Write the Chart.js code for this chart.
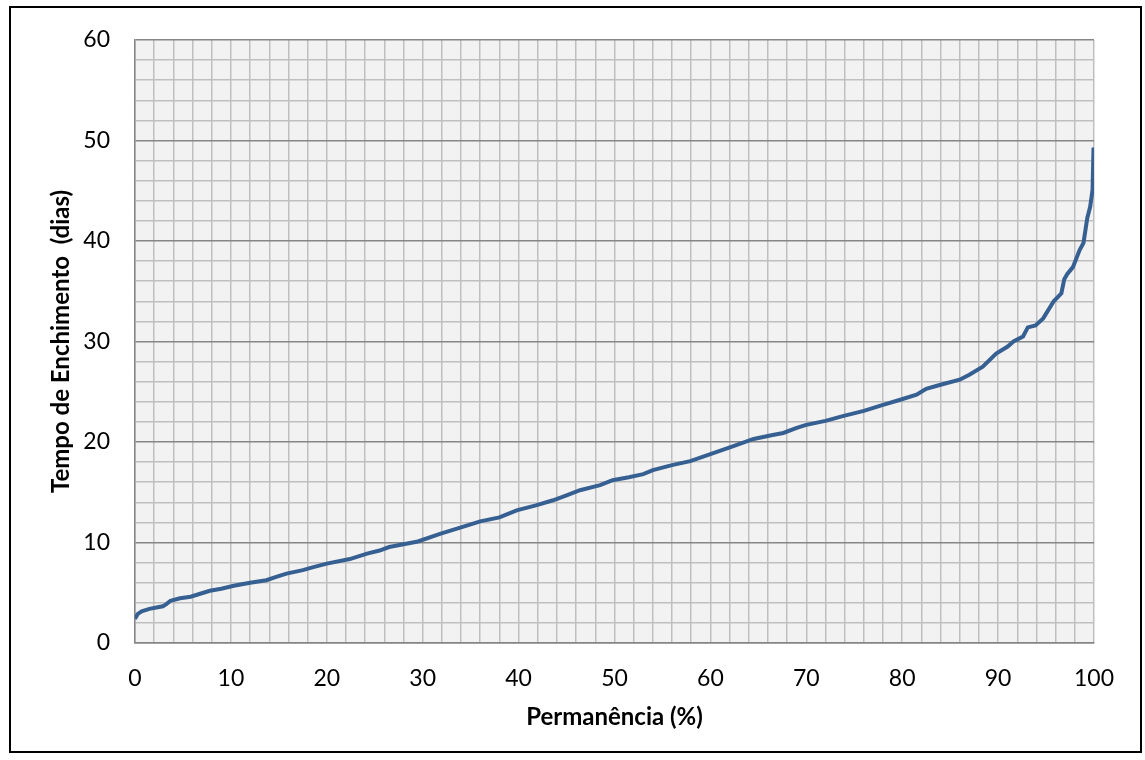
<!DOCTYPE html>
<html lang="pt">
<head>
  <meta charset="UTF-8">
  <title>Tempo de Enchimento x Permanência</title>
  <script src="https://cdn.jsdelivr.net/npm/chart.js"></script>
  <style>
    body { margin: 0; background: #fff; }
    canvas { display: block; }
  </style>
</head>
<body>
  <canvas id="curvaPermanencia" width="1145" height="760"></canvas>

  <script>
    // permanência (%) e tempo de enchimento (dias)
    const permanencia = [0, 0.3, 0.7, 1.5, 2.9, 3.3, 3.7, 4.7, 5.8, 6.8, 7.8, 9, 10.3, 12, 13.7, 14.8,
      15.8, 17.5, 18.6, 20, 22.4, 24.2, 25.5, 26.5, 27.6, 29.5, 31.8, 34, 36, 38, 39.8, 41.8, 43.6,
      45, 46.4, 48.5, 49.8, 51.5, 53, 54, 56, 57.9, 60, 62.4, 64.5, 66.5, 67.6, 69, 70, 72, 73.9,
      76, 78, 79.8, 81.5, 82.5, 84, 86, 87, 88.4, 89.8, 91, 91.6, 92.6, 93.1, 93.9, 94.7, 95.8,
      96.6, 96.9, 97.2, 97.8, 98.5, 98.9, 99.3, 99.6, 99.85, 99.95];
    const tempoDias = [2.4, 2.9, 3.15, 3.4, 3.65, 3.9, 4.2, 4.45, 4.6, 4.9, 5.2, 5.4, 5.7, 6.0, 6.25, 6.6,
      6.9, 7.25, 7.55, 7.9, 8.35, 8.9, 9.2, 9.55, 9.75, 10.1, 10.85, 11.5, 12.1, 12.5, 13.2, 13.7, 14.2,
      14.7, 15.2, 15.7, 16.2, 16.5, 16.8, 17.2, 17.7, 18.1, 18.8, 19.6, 20.3, 20.7, 20.9, 21.4, 21.7, 22.1, 22.6,
      23.1, 23.7, 24.2, 24.7, 25.3, 25.7, 26.2, 26.7, 27.5, 28.8, 29.5, 30.0, 30.5, 31.4, 31.6, 32.3, 34.0,
      34.8, 36.2, 36.7, 37.4, 39.1, 39.8, 42.3, 43.4, 45.1, 49.3];
    const xTicks = [0, 10, 20, 30, 40, 50, 60, 70, 80, 90, 100];
    const yTicks = [0, 10, 20, 30, 40, 50, 60];

    const fonte = "Lato, 'DejaVu Sans', sans-serif";

    // fundo da área do gráfico e moldura externa
    const moldura = {
      id: "moldura",
      beforeDraw(chart) {
        const { ctx, chartArea: a } = chart;
        ctx.save();
        ctx.fillStyle = "#f2f2f2";
        ctx.fillRect(a.left, a.top, a.right - a.left, a.bottom - a.top);
        ctx.strokeStyle = "#000";
        ctx.lineWidth = 2;
        ctx.strokeRect(10, 7, 1131, 745);
        ctx.restore();
      }
    };

    new Chart(document.getElementById("curvaPermanencia"), {
      type: "line",
      data: {
        datasets: [{
          data: permanencia.map((x, i) => ({ x, y: tempoDias[i] })),
          borderColor: "#376092",
          borderWidth: 4,
          pointRadius: 0,
          tension: 0,
          fill: false
        }]
      },
      options: {
        responsive: false,
        animation: false,
        layout: { padding: { top: 40, right: 51, left: 0, bottom: 0 } },
        plugins: { legend: { display: false }, tooltip: { enabled: false } },
        scales: {
          x: {
            type: "linear",
            min: 0, max: 100,
            afterFit: s => { s.height = 117; },
            ticks: {
              stepSize: 2, autoSkip: false, maxRotation: 0, padding: 22,
              color: "#000", font: { family: fonte, size: 23 },
              callback: v => xTicks.includes(v) ? String(v) : ""
            },
            grid: { color: "#bfbfbf", lineWidth: 1.5, drawTicks: false },
            border: { color: "#868686", width: 1.5 },
            title: {
              display: true, text: "Permanência (%)", color: "#000",
              font: { family: fonte, size: 24, weight: "bold" },
              padding: { top: 0, bottom: 28 }
            }
          },
          y: {
            min: 0, max: 60,
            afterFit: s => { s.width = 135; },
            ticks: {
              stepSize: 2, autoSkip: false, padding: 25,
              color: "#000", font: { family: fonte, size: 23 },
              callback: v => yTicks.includes(v) ? String(v) : ""
            },
            grid: {
              drawTicks: false, lineWidth: 1.5,
              color: c => (c.tick && c.tick.value % 10 === 0) ? "#868686" : "#bfbfbf"
            },
            border: { color: "#868686", width: 1.5 },
            title: {
              display: true, text: "Tempo de Enchimento  (dias)", color: "#000",
              font: { family: fonte, size: 24, weight: "bold" },
              padding: { top: 47, bottom: 0 }
            }
          }
        }
      },
      plugins: [moldura]
    });
  </script>
</body>
</html>
